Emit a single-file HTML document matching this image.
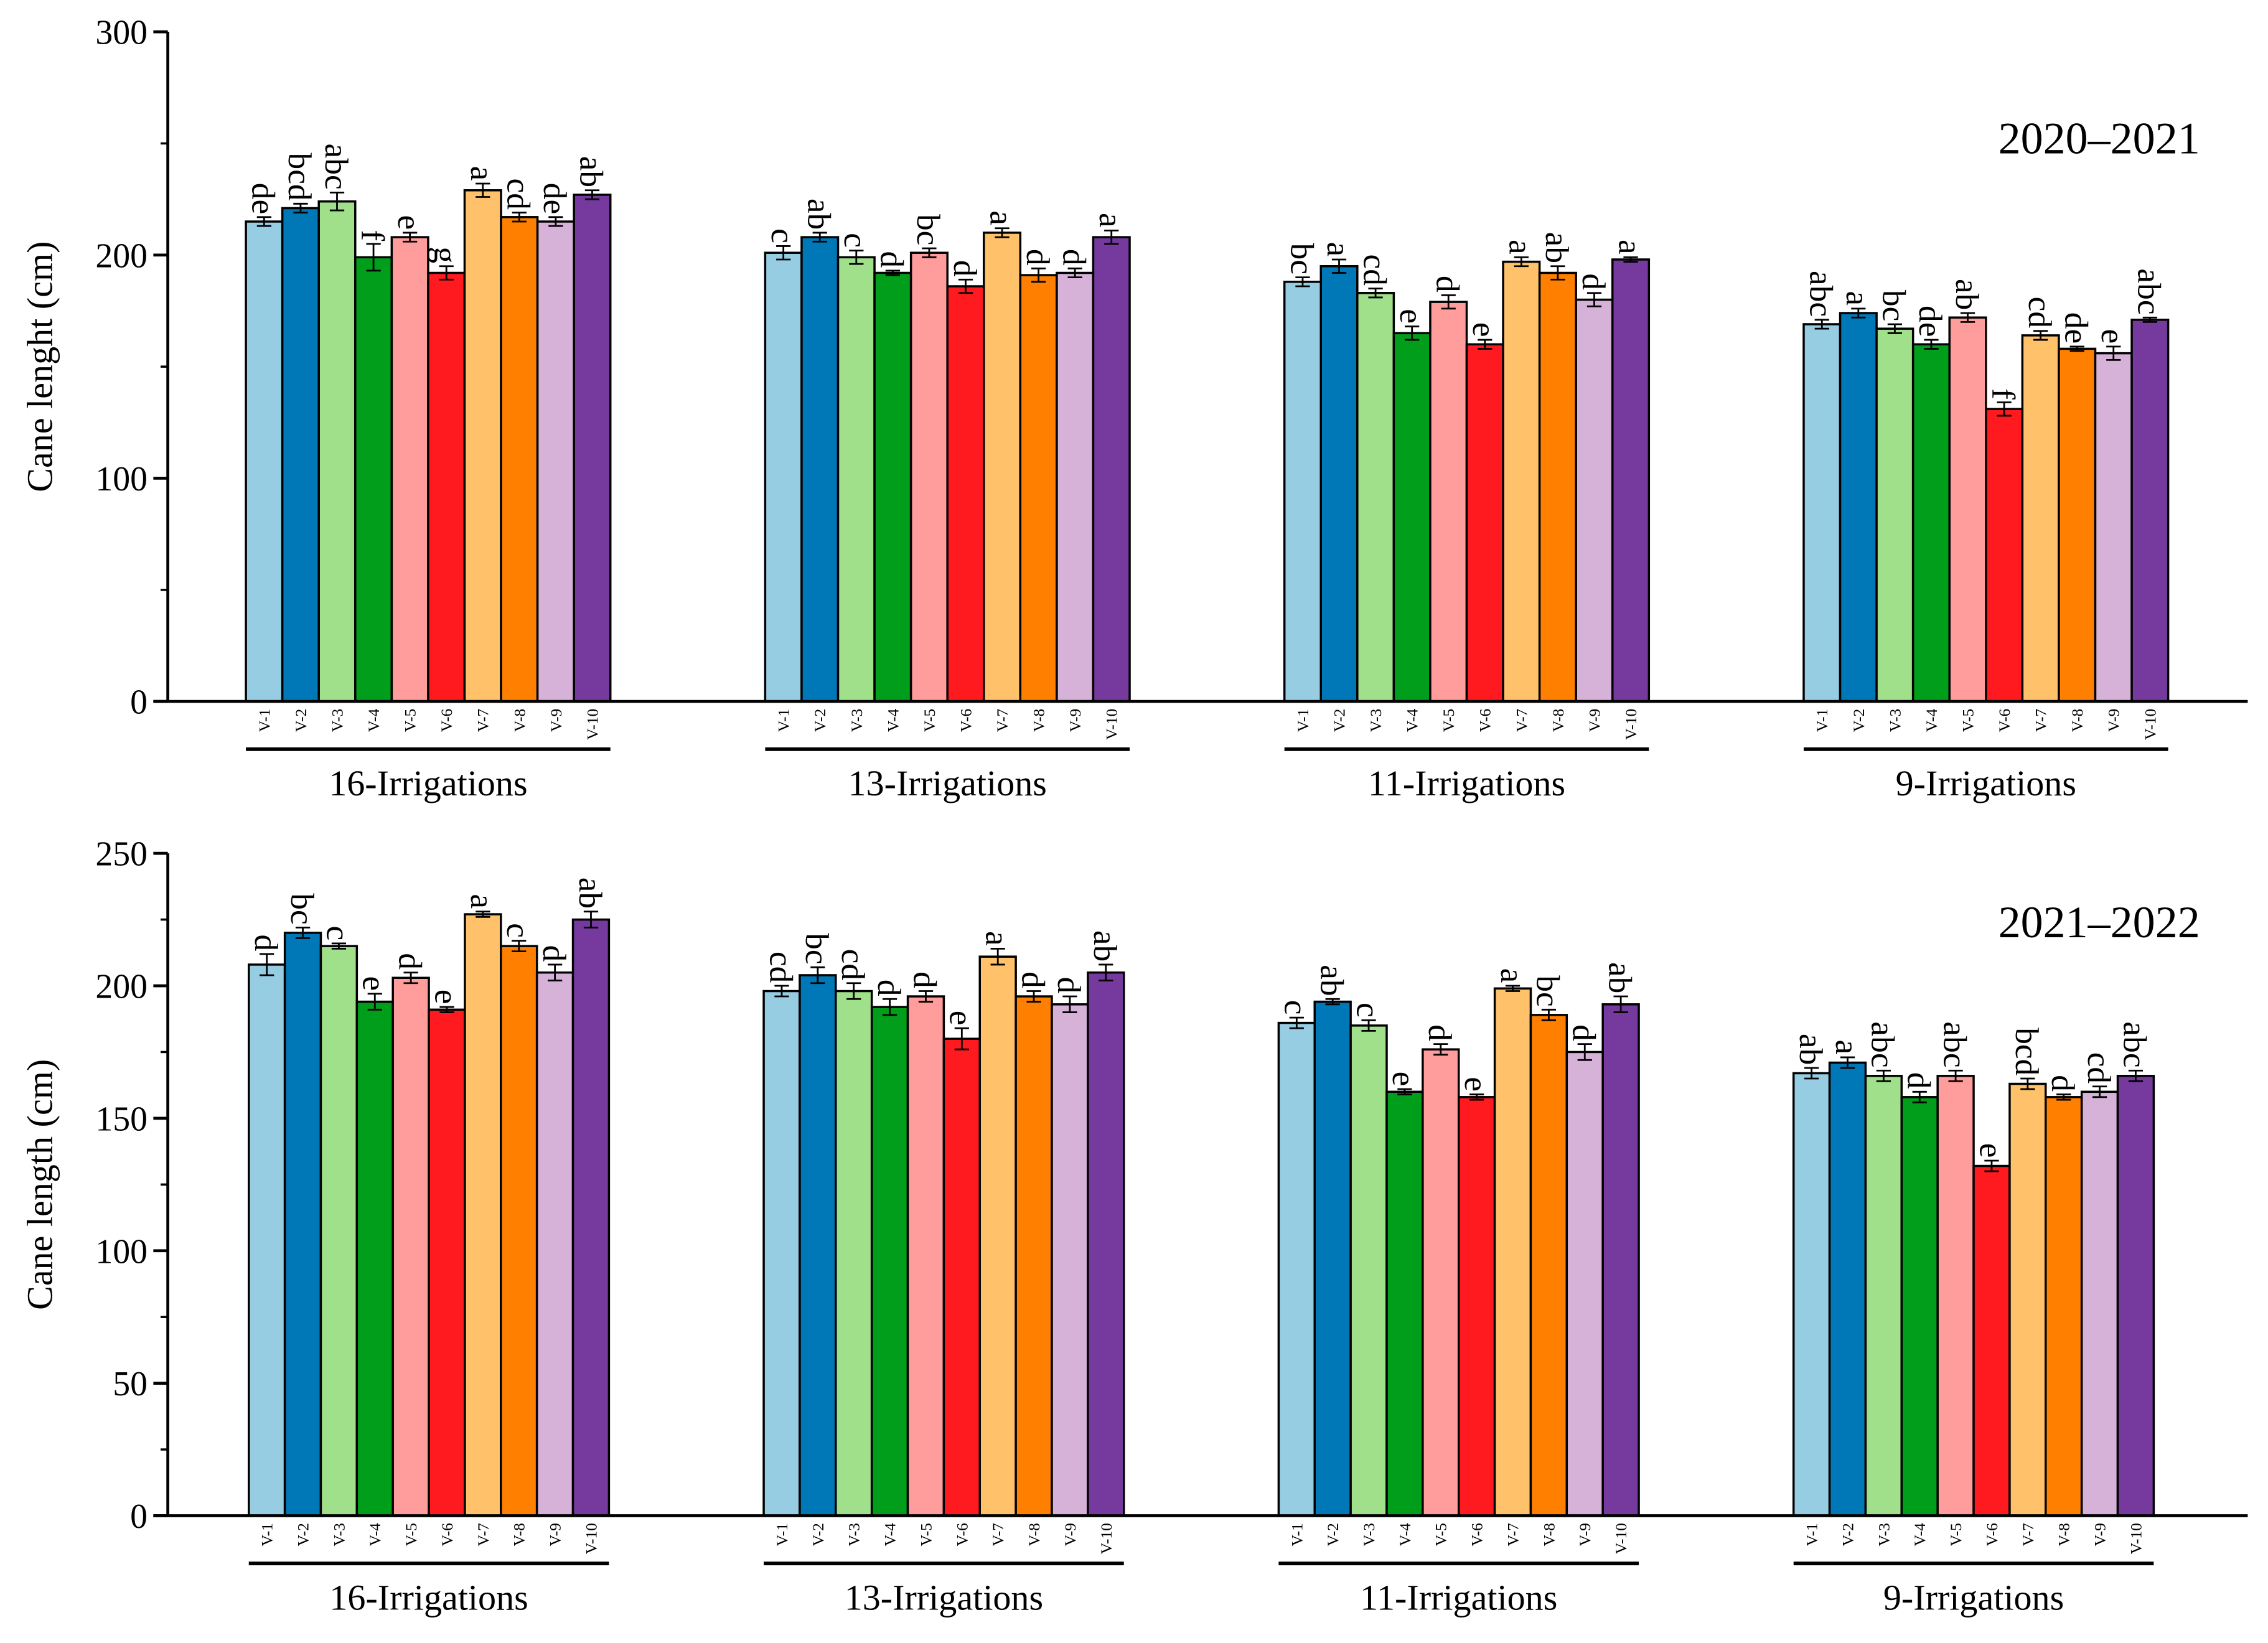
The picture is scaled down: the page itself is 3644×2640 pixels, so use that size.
<!DOCTYPE html>
<html><head><meta charset="utf-8"><style>html,body{margin:0;padding:0;background:#fff}svg{display:block}svg text{font-family:"Liberation Serif","Times New Roman",serif}</style></head>
<body>
<svg id="chart" xmlns="http://www.w3.org/2000/svg" width="3644" height="2640" viewBox="0 0 1568 1136"></svg>
<script>
const varieties = ["V-1","V-2","V-3","V-4","V-5","V-6","V-7","V-8","V-9","V-10"];
const groups = ["16-Irrigations","13-Irrigations","11-Irrigations","9-Irrigations"];
const colors = ["#96CDE3","#0077B6","#A1E08A","#009E1A","#FF9C9C","#FF1A1F","#FFC26B","#FF8000","#D6B1D8","#763A9E"];
const topValues = [
 [215,221,224,199,208,192,229,217,215,227],
 [201,208,199,192,201,186,210,191,192,208],
 [188,195,183,165,179,160,197,192,180,198],
 [169,174,167,160,172,131,164,158,156,171]];
const topErrors = [
 [2,2,4,6,2,3,3,2,2,2],[3,2,3,1,2,3,2,3,2,3],[2,3,2,3,3,2,2,3,3,1],[2,2,2,2,2,3,2,1,3,1]];
const topLetters = [
 ["de","bcd","abc","f","e","g","a","cd","de","ab"],
 ["c","ab","c","d","bc","d","a","d","d","a"],
 ["bc","a","cd","e","d","e","a","ab","d","a"],
 ["abc","a","bc","de","ab","f","cd","de","e","abc"]];
const bottomValues = [
 [208,220,215,194,203,191,227,215,205,225],
 [198,204,198,192,196,180,211,196,193,205],
 [186,194,185,160,176,158,199,189,175,193],
 [167,171,166,158,166,132,163,158,160,166]];
const bottomErrors = [
 [4,2,1,3,2,1,1,2,3,3],[2,3,3,3,2,4,3,2,3,3],[2,1,2,1,2,1,1,2,3,3],[2,2,2,2,2,2,2,1,2,2]];
const bottomLetters = [
 ["d","bc","c","e","d","e","a","c","d","ab"],
 ["cd","bc","cd","d","d","e","a","d","d","ab"],
 ["c","ab","c","e","d","e","a","bc","d","ab"],
 ["ab","a","abc","d","abc","e","bcd","d","cd","abc"]];
const topTicks = [0,100,200,300];
const bottomTicks = [0,50,100,150,200,250];

const svg = document.getElementById('chart');
const NS = "http://www.w3.org/2000/svg";
function mk(tag, attrs, parent){const e=document.createElementNS(NS,tag);for(const k in attrs)e.setAttribute(k,attrs[k]);(parent||svg).appendChild(e);return e;}

function panel(cfg){
  const g = mk('g',{});
  
  
  const y = v => cfg.y0 - (v/cfg.max)*(cfg.y0-cfg.yTop);
  const bw = cfg.bw;
  cfg.values.forEach((vals,gi)=>{
    const gx = cfg.starts[gi];
    vals.forEach((v,i)=>{
      const x = gx + i*bw;
      const r = mk('rect',{x:x,y:y(v),width:bw,height:cfg.y0-y(v),fill:colors[i],stroke:'#000','stroke-width':1.5},g);
      
      
      const cx = x+bw/2, e = cfg.errors[gi][i];
      const eb = mk('path',{d:`M${cx} ${y(v+e)}V${y(v-e)}M${cx-5} ${y(v+e)}H${cx+5}M${cx-5} ${y(v-e)}H${cx+5}`,stroke:'#000','stroke-width':1.2,fill:'none'},g);
      
      
      const t = mk('text',{transform:`translate(${cx},${y(v+e)-2}) rotate(90)`,'text-anchor':'end',dy:'0.35em','font-size':23},g);
      t.textContent = cfg.letters[gi][i];
      
      
      const tl = mk('text',{transform:`translate(${cx},${cfg.y0+5}) rotate(-90)`,'text-anchor':'end',dy:'0.35em','font-size':11},g);
      tl.textContent = varieties[i];
      
      
    });
    const ul = mk('line',{x1:gx,x2:gx+10*bw,y1:cfg.ulY,y2:cfg.ulY,stroke:'#000','stroke-width':2.5},g);
    
    
    const gl = mk('text',{x:gx+5*bw,y:cfg.glY,'text-anchor':'middle','font-size':25},g);
    gl.textContent = groups[gi];
    
    
  });
  const ya = mk('line',{x1:cfg.ax,x2:cfg.ax,y1:cfg.yTop,y2:cfg.y0,stroke:'#000','stroke-width':2},g);
  
  
  const xa = mk('line',{x1:cfg.ax-10,x2:1554,y1:cfg.y0,y2:cfg.y0,stroke:'#000','stroke-width':2},g);
  
  
  cfg.ticks.forEach((t,k)=>{
    mk('line',{x1:cfg.ax-10,x2:cfg.ax,y1:y(t),y2:y(t),stroke:'#000','stroke-width':2},g);
    const lb = mk('text',{x:cfg.ax-14,y:y(t),dy:'0.35em','text-anchor':'end','font-size':24},g);
    lb.textContent = t;
    
    
    if(k<cfg.ticks.length-1){const m=(t+cfg.ticks[k+1])/2;mk('line',{x1:cfg.ax-5,x2:cfg.ax,y1:y(m),y2:y(m),stroke:'#000','stroke-width':1.5},g);}
  });
  const yt = mk('text',{transform:`translate(36,${(cfg.yTop+cfg.y0)/2}) rotate(-90)`,'text-anchor':'middle','font-size':25},g);
  yt.textContent = cfg.ytitle;
  
  
  const yr = mk('text',{x:1521,y:cfg.yearY,'text-anchor':'end','font-size':31},g);
  yr.textContent = cfg.year;
  
  
}
panel({name:'panel-2020-2021',values:topValues,errors:topErrors,letters:topLetters,ticks:topTicks,max:300,yTop:22,y0:485,ax:116,starts:[170,529,888,1247],bw:25.2,ulY:518,glY:550,ytitle:'Cane lenght (cm)',year:'2020–2021',yearY:106});
panel({name:'panel-2021-2022',values:bottomValues,errors:bottomErrors,letters:bottomLetters,ticks:bottomTicks,max:250,yTop:590,y0:1048,ax:116,starts:[172,528,884,1240],bw:24.9,ulY:1081,glY:1113,ytitle:'Cane length (cm)',year:'2021–2022',yearY:648});
</script>
</body></html>
